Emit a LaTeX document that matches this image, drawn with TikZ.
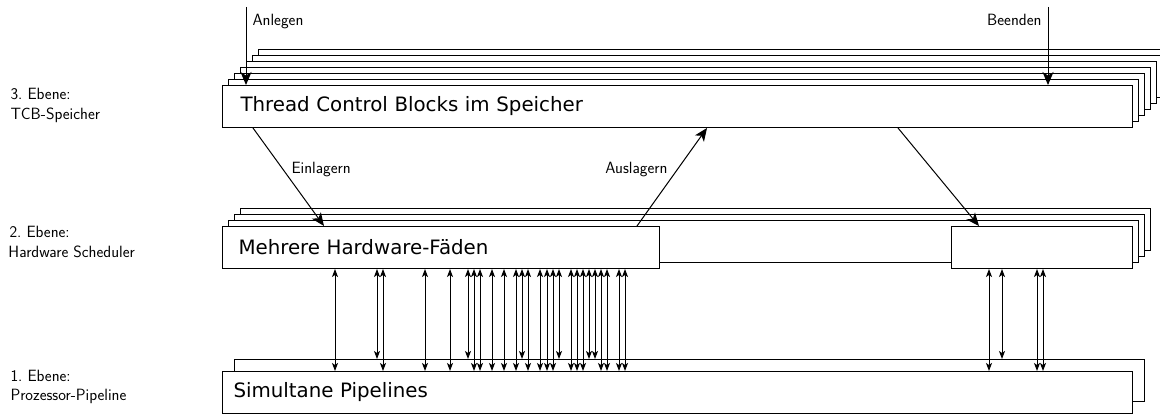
\documentclass[tikz,border=0pt]{standalone}
\usepackage{fontspec}
\newfontfamily\boxfont{DejaVu Sans}
\usetikzlibrary{arrows.meta}
\tikzset{
  layer/.style={draw, fill=white, anchor=north west, inner sep=0pt, minimum height=42pt},
  boxtxt/.style={font=\boxfont\fontsize{19.8}{24}\selectfont, align=left},
  lbl/.style={font=\sffamily\fontsize{16.3}{19}\selectfont, inner sep=0pt},
  bigarrow/.style={-{Stealth[length=13pt,width=11pt,inset=3.5pt]}},
  dblarrow/.style={{Stealth[length=8pt,width=6pt,inset=2pt]}-{Stealth[length=8pt,width=6pt,inset=2pt]}}
}
\begin{document}
\begin{tikzpicture}[x=1pt,y=-1pt,line width=1pt]
\useasboundingbox (0,0) rectangle (1160,414);
\clip (0,0) rectangle (1160,414);

% level 3: TCB memory stack
\foreach \k in {6,5,4,3,2,1}
  \node[layer, minimum width=910pt] (tcb\k) at ({222+6*\k},{85-6*\k}) {};
\node[layer, boxtxt, minimum width=910pt, text width=874pt, inner xsep=18pt] (tcb) at (222,85) {Thread Control Blocks im Speicher};

% level 2: hardware scheduler
\foreach \k in {3,2,1}
  \node[layer, minimum width=910pt] (hw\k) at ({222+6*\k},{226-6*\k}) {};
\node[layer, boxtxt, minimum width=437pt, text width=405pt, inner xsep=16pt] (hwl) at (222,226) {Mehrere Hardware-F\"aden};
\node[layer, minimum width=181pt] (hwr) at (951,226) {};

% level 1: pipelines
\node[layer, minimum width=910pt] (pipeback) at (234,359) {};
\node[layer, boxtxt, minimum width=910pt, text width=888pt, inner xsep=11pt] (pipe) at (222,371) {Simultane Pipelines};

% left labels
\node[lbl, anchor=base west] (l3a) at (10,100) {3.\ Ebene:};
\node[lbl, anchor=base west] (l3b) at (10,120) {TCB-Speicher};
\node[lbl, anchor=base west] (l2a) at (9,238) {2.\ Ebene:};
\node[lbl, anchor=base west] (l2b) at (8,258) {Hardware Scheduler};
\node[lbl, anchor=base west] (l1a) at (10,381) {1.\ Ebene:};
\node[lbl, anchor=base west] (l1b) at (10,400) {Prozessor-Pipeline};

% Anlegen / Beenden
\coordinate (anl) at (246,7);
\coordinate (bee) at (1048,7);
\draw[bigarrow] (anl) -- (anl |- tcb.north);
\draw[bigarrow] (bee) -- (bee |- tcb.north);
\node[lbl, anchor=base west] (anllbl) at (252,26) {Anlegen};
\node[lbl, anchor=base east] (beelbl) at (1042,26) {Beenden};

% swapping arrows
\draw[bigarrow] (tcb.south -| 253,0) -- (hwl.north -| 324,0);
\draw[bigarrow] (hwl.north -| 637,0) -- (tcb.south -| 707,0);
\draw[bigarrow] (tcb.south -| 898,0) -- (hwr.north -| 979,0);
\node[lbl, anchor=west] (einl) at (291,170) {Einlagern};
\node[lbl, anchor=east] (ausl) at (668,170) {Auslagern};

% hardware threads <-> pipelines
\foreach \x in {335,383,425,450,474,480,492,504,516,528,540,547,553,571,577,583,601,607,619,625}
  \draw[dblarrow] (hwl.south -| \x,0) -- (pipe.north -| \x,0);
\foreach \x in {377,468,522,559,589,595}
  \draw[dblarrow] (hwl.south -| \x,0) -- (pipeback.north -| \x,0);
\foreach \x in {989,1037,1043}
  \draw[dblarrow] (hwr.south -| \x,0) -- (pipe.north -| \x,0);
\foreach \x in {1002}
  \draw[dblarrow] (hwr.south -| \x,0) -- (pipeback.north -| \x,0);
\end{tikzpicture}
\end{document}
